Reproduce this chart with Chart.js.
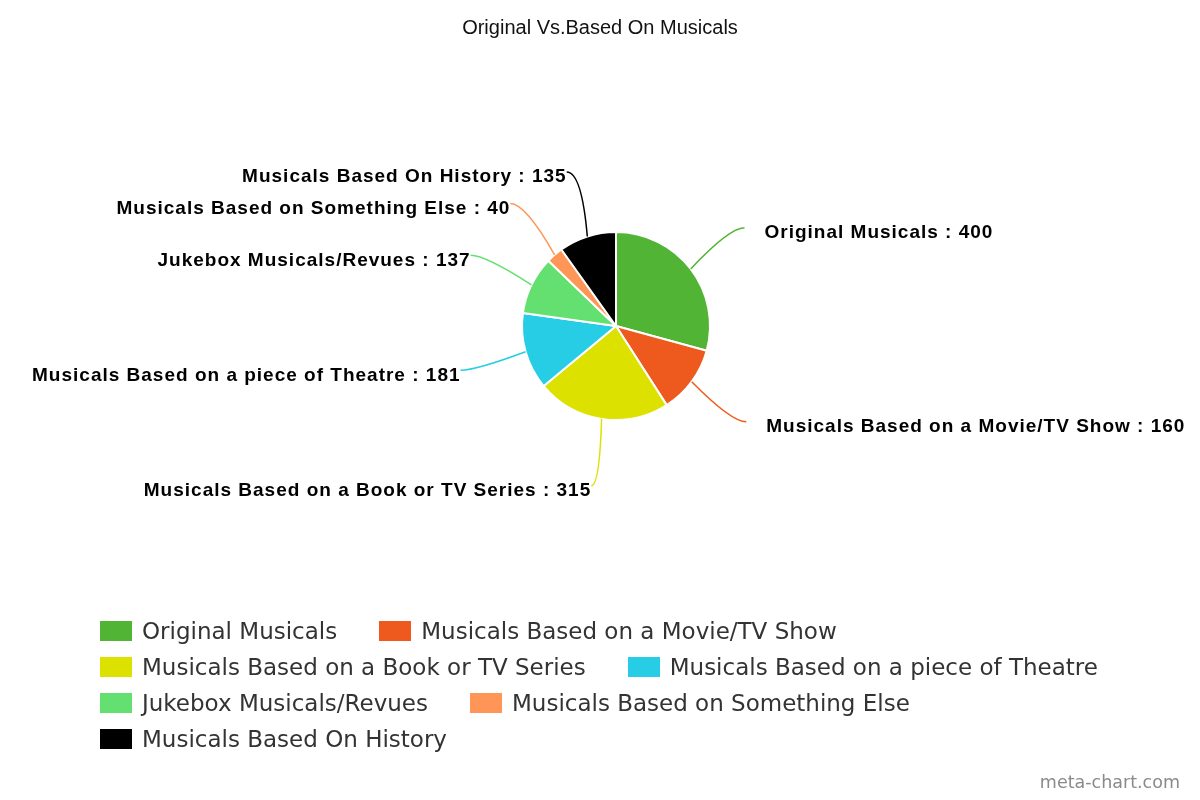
<!DOCTYPE html>
<html>
<head>
<meta charset="utf-8">
<script src="https://cdn.jsdelivr.net/npm/chart.js@4/dist/chart.umd.min.js"></script>
<style>
    html, body { margin: 0; padding: 0; background: #fff; }
    #wrap { position: relative; width: 1200px; height: 800px; overflow: hidden; }
    #pie { position: absolute; left: 0; top: 0; }
    .title { position: absolute; left: 0; top: 15px; width: 1200px; text-align: center;
        font: 20px "Liberation Sans", Arial, sans-serif; line-height: 24px; color: #111; }
    .legend { position: absolute; left: 100px; top: 621px; width: 1100px; display: flex; flex-wrap: wrap;
        column-gap: 42px; row-gap: 16px; font: 23px "DejaVu Sans", Verdana, sans-serif; color: #333; }
    .legend-item { display: flex; align-items: center; height: 20px; line-height: 20px; white-space: nowrap; }
    .legend-box { width: 32px; height: 20px; margin-right: 10px; flex: none; }
    .credit { position: absolute; right: 20px; top: 772px; font: 17.5px "DejaVu Sans", Verdana, sans-serif; color: #8a8a8a; }
</style>
</head>
<body>
<div id="wrap">
    <canvas id="pie" width="1200" height="800"></canvas>
    <div class="title">Original Vs.Based On Musicals</div>
    <div class="legend" id="legend"></div>
    <div class="credit">meta-chart.com</div>
</div>
<script>
// ===== data =====
const categories = [
    'Original Musicals',
    'Musicals Based on a Movie/TV Show',
    'Musicals Based on a Book or TV Series',
    'Musicals Based on a piece of Theatre',
    'Jukebox Musicals/Revues',
    'Musicals Based on Something Else',
    'Musicals Based On History'
];
const counts = [400, 160, 315, 181, 137, 40, 135];
const sliceColors = ['#52b434', '#ee5a1d', '#dde100', '#26cde5', '#63e06f', '#ff9657', '#000000'];

// legend (html, flows like the original)
document.getElementById('legend').innerHTML = categories.map((c, i) => `
    <div class="legend-item"><span class="legend-box" style="background:${sliceColors[i]}"></span>${c}</div>
`).join('');

// outside labels with curved leader lines
const outerLabels = {
    id: 'outerLabels',
    afterDatasetsDraw(chart) {
        const ctx = chart.ctx;
        const meta = chart.getDatasetMeta(0);
        ctx.save();
        ctx.font = 'bold 19px "Liberation Sans", Arial, sans-serif';
        if ('letterSpacing' in ctx) ctx.letterSpacing = '1px';
        ctx.textBaseline = 'middle';
        meta.data.forEach((arc, i) => {
            const { x, y, startAngle, endAngle, outerRadius } = arc.getProps(['x', 'y', 'startAngle', 'endAngle', 'outerRadius'], true);
            const mid = (startAngle + endAngle) / 2;
            const cos = Math.cos(mid), sin = Math.sin(mid);
            const side = cos >= 0 ? 1 : -1;
            const p0 = { x: x + cos * outerRadius, y: y + sin * outerRadius };
            const end = { x: x + cos * outerRadius * 1.72, y: y + sin * outerRadius * 1.72 };
            const k = Math.min(15, Math.abs(end.x - p0.x) * 0.8);
            const ctrl = { x: end.x - side * k, y: end.y };

            ctx.strokeStyle = sliceColors[i];
            ctx.lineWidth = 1.5;
            ctx.beginPath();
            ctx.moveTo(p0.x, p0.y);
            ctx.quadraticCurveTo(ctrl.x, ctrl.y, end.x, end.y);
            ctx.stroke();

            ctx.fillStyle = '#000';
            const txt = categories[i] + ' : ' + counts[i];
            if (side > 0) {
                ctx.textAlign = 'left';
                ctx.fillText(txt, end.x + 20, end.y + 5);
            } else {
                ctx.textAlign = 'right';
                ctx.fillText(txt, end.x, end.y + 5);
            }
        });
        ctx.restore();
    }
};

new Chart(document.getElementById('pie'), {
    type: 'pie',
    data: {
        labels: categories,
        datasets: [{
            data: counts,
            backgroundColor: sliceColors,
            borderColor: '#ffffff',
            borderWidth: 2
        }]
    },
    options: {
        responsive: false,
        animation: false,
        radius: 94,
        layout: { padding: { top: 232, bottom: 380, left: 416, right: 384 } },
        plugins: {
            legend: { display: false },
            tooltip: { enabled: false },
            title: { display: false }
        }
    },
    plugins: [outerLabels]
});
</script>
</body>
</html>
